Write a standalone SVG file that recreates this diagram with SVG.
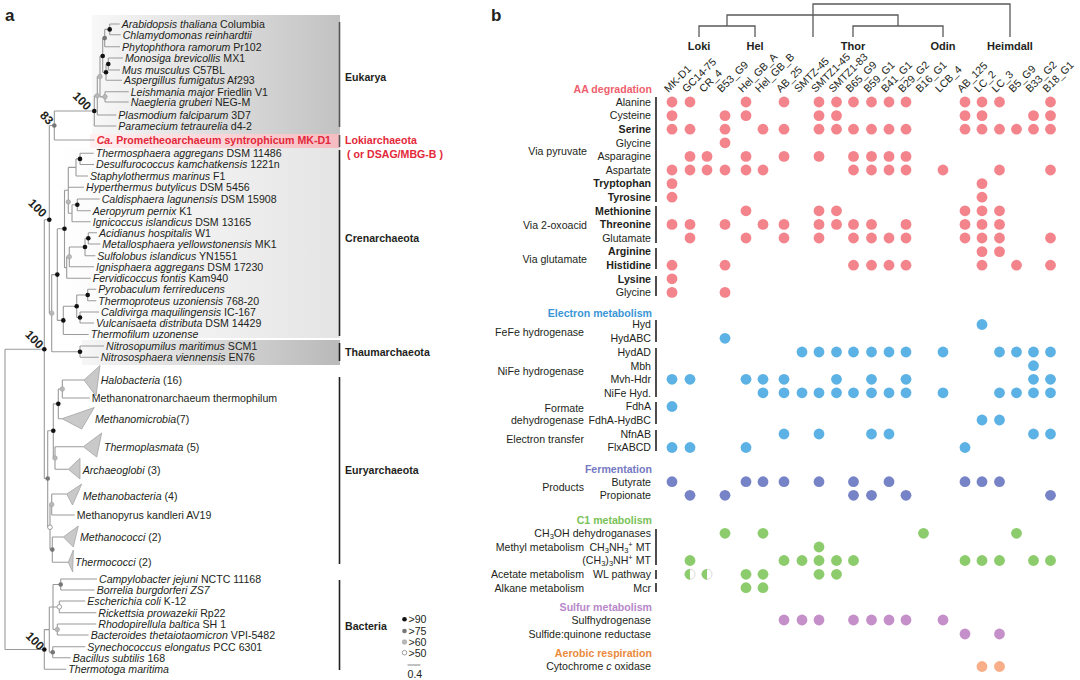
<svg xmlns="http://www.w3.org/2000/svg" width="1080" height="680" viewBox="0 0 1080 680">
<defs>
<linearGradient id="gEuk" x1="0" x2="1" y1="0" y2="0"><stop offset="0" stop-color="#f8f8f8"/><stop offset="1" stop-color="#c2c2c2"/></linearGradient>
<linearGradient id="gLoki" x1="0" x2="1" y1="0" y2="0"><stop offset="0" stop-color="#fff0f1"/><stop offset="1" stop-color="#f5bcc1"/></linearGradient>
<linearGradient id="gCren" x1="0" x2="1" y1="0" y2="0"><stop offset="0" stop-color="#ffffff"/><stop offset="1" stop-color="#e4e4e4"/></linearGradient>
<linearGradient id="gThaum" x1="0" x2="1" y1="0" y2="0"><stop offset="0" stop-color="#f6f6f6"/><stop offset="1" stop-color="#b9b9b9"/></linearGradient>
<style>
text{font-family:"Liberation Sans",Arial,sans-serif;font-size:10.6px;fill:#231f20}
.i{font-style:italic}
.b{font-weight:bold}
.t{font-weight:bold;font-size:11px}
.bs{font-weight:bold;font-size:12px}
.lbl{font-size:17px;font-weight:bold}
.tree{fill:none;stroke:#9a9a9a;stroke-width:1.1}
.br{stroke:#231f20;stroke-width:1.6}
.hdr{fill:none;stroke:#5a5a5a;stroke-width:1.3}
.n90{fill:#111}
.n75{fill:#767676}
.n60{fill:#b8b8b8;stroke:#999;stroke-width:0.5}
.n50{fill:#fff;stroke:#888;stroke-width:0.8}
.tri{fill:#c9c9c9;stroke:#a5a5a5;stroke-width:0.8}
.aa{fill:#f3848c}.el{fill:#5cb2e4}.fe{fill:#7683c6}.c1{fill:#8dcc6c}.su{fill:#c590c9}.ae{fill:#f8ae88}
.end{text-anchor:end}
</style>
</defs>
<rect width="1080" height="680" fill="#fff"/>

<!-- ================= PANEL A ================= -->
<g id="panel-a">
<text class="lbl" x="5" y="21">a</text>
<rect id="bg-eukarya" x="92" y="15" width="248" height="119" fill="url(#gEuk)"/>
<rect id="bg-loki" x="90" y="134" width="250" height="14" fill="url(#gLoki)"/>
<rect id="bg-cren" x="56" y="148" width="284" height="190" fill="url(#gCren)"/>
<rect id="bg-thaum" x="82" y="340" width="258" height="25" fill="url(#gThaum)"/>

<g id="connectors">
<path class="tree" d="M5,349.2V649.5M5,349.2H44.3M5,649.5H44.3
M44.3,219.8V478.5M44.3,219.8H49.3M44.3,478.5H47.7
M49.3,125.5V313.2M49.3,125.5H54.3M49.3,313.2H51.7
M54.3,111V140M54.3,111H94.3M54.3,140H94.5
M94.3,95.75V126M94.3,95.75H97.3M94.3,126H116.3
M97.3,76.5V115M97.3,76.5H100M97.3,115H116.3
M100,56V96.85M100,56H102.7M100,96.85H105
M105,91.7V102M105,91.7H128.7M105,102H128.7
M102.7,38.1V72.2M102.7,38.1H104.7M102.7,72.2H106
M104.7,29.4V46.7M104.7,29.4H109.7M104.7,46.7H120
M109.7,24V34.7M109.7,24H119.7M109.7,34.7H120.7
M106,64V80.3M106,64H108.3M106,80.3H122
M108.3,58V70M108.3,58H123M108.3,70H120
M51.7,274.6V351.7M51.7,274.6H57.3M51.7,351.7H80
M80,346V357.3M80,346H104M80,357.3H98.7
M57.3,228.8V320.4M57.3,228.8H64.5M57.3,320.4H63.3
M64.5,190.3V267.65M64.5,190.3H68.3M64.5,267.65H66.7
M68.3,167.4V213.2M68.3,187.3H84M68.3,167.4H76M68.3,213.2H72
M76,158.9V176M76,176H88M76,158.9H80
M80,153.3V164.5M80,153.3H93.7M80,164.5H94
M72,204.8V221.7M72,221.7H90.7M72,204.8H77.3
M77.3,199V210.7M77.3,199H99.7M77.3,210.7H90.7
M66.7,256.85V278.3M66.7,278.3H90.7M66.7,256.85H69.3
M69.3,247V266.7M69.3,266.7H94M69.3,247H85
M85,238.3V255.7M85,255.7H95.3M85,238.3H88.3
M88.3,232.7V244M88.3,232.7H97M88.3,244H100.3
M63.3,306.3V334.5M63.3,334.5H88.7M63.3,306.3H76.7
M76.7,295V317.5M76.7,295H87.7M76.7,317.5H80
M87.7,289.3V300.7M87.7,289.3H96.3M87.7,300.7H96.3
M80,312V323M80,312H99M80,323H94
M47.7,430.75V527.25M47.7,430.75H53.3M47.7,527.25H50
M53.3,403.85V458M53.3,403.85H58.3M53.3,458H55
M58.3,389V418.7M58.3,389H62.3M58.3,418.7H62
M62.3,380V398M62.3,380H84M62.3,398H89.7
M55,446.7V469.3M55,446.7H83.3M55,469.3H68.3
M50,504.5V549.6M50,504.5H51.7M50,549.6H52.3
M51.7,494V515M51.7,494H66.7M51.7,515H74.7
M52.3,537V562.3M52.3,537H63.3M52.3,562.3H68.3
M44.3,629.6V669.3M44.3,669.3H66.3M44.3,629.6H49.3
M49.3,607V652.2M49.3,607H53M49.3,652.2H52.7
M53,584.5V629.5M53,584.5H60.7M53,607H59.3M53,629.5H57.3
M60.7,579V590M60.7,579H97M60.7,590H94.7
M59.3,601V612.7M59.3,601H85.3M59.3,612.7H96.3
M57.3,624V635M57.3,624H96.3M57.3,635H88.7
M52.7,646.7V657.7M52.7,646.7H85.3M52.7,657.7H70.7"/>
<polygon class="tri" points="84,380 100,365.5 96,396"/>
<polygon class="tri" points="62,418.7 94.3,407.5 81.7,429"/>
<polygon class="tri" points="83.3,446.7 101.7,433 96.7,457"/>
<polygon class="tri" points="68.3,469.3 80,458.3 80,479"/>
<polygon class="tri" points="66.7,494 81.7,484 72.5,505"/>
<polygon class="tri" points="63.3,537 78.3,526 73.3,547"/>
<polygon class="tri" points="68.3,562.3 73.3,550 72.7,572"/>
</g>

<g id="support-nodes">
<circle class="n90" cx="109.7" cy="29.4" r="2.3"/>
<circle class="n75" cx="104.7" cy="38.1" r="2.3"/>
<circle class="n90" cx="102.7" cy="56" r="2.3"/>
<circle class="n90" cx="108.3" cy="64" r="2.3"/>
<circle class="n90" cx="106" cy="72.2" r="2.3"/>
<circle class="n60" cx="100" cy="76.5" r="2.3"/>
<circle class="n60" cx="97.3" cy="95.75" r="2.3"/>
<circle class="n60" cx="105" cy="96.85" r="2.3"/>
<circle class="n90" cx="94.3" cy="111" r="2.3"/>
<circle class="n75" cx="54.3" cy="125.5" r="2.3"/>
<circle class="n90" cx="80" cy="158.9" r="2.3"/>
<circle class="n90" cx="77.3" cy="204.8" r="2.3"/>
<circle class="n60" cx="68.3" cy="202" r="2.3"/>
<circle class="n90" cx="64.5" cy="228.8" r="2.3"/>
<circle class="n90" cx="88.3" cy="238.3" r="2.3"/>
<circle class="n90" cx="85" cy="247" r="2.3"/>
<circle class="n60" cx="69.3" cy="256.85" r="2.3"/>
<circle class="n90" cx="57.3" cy="274.6" r="2.3"/>
<circle class="n90" cx="87.7" cy="295" r="2.3"/>
<circle class="n90" cx="76.7" cy="306.3" r="2.3"/>
<circle class="n90" cx="80" cy="317.5" r="2.3"/>
<circle class="n90" cx="63.3" cy="320.4" r="2.3"/>
<circle class="n60" cx="51.7" cy="313.2" r="2.3"/>
<circle class="n90" cx="80" cy="351.7" r="2.3"/>
<circle class="n90" cx="49.3" cy="219.8" r="2.3"/>
<circle class="n90" cx="44.3" cy="349.2" r="2.3"/>
<circle class="n60" cx="62.3" cy="389" r="2.3"/>
<circle class="n90" cx="58.3" cy="403.85" r="2.3"/>
<circle class="n90" cx="53.3" cy="430.75" r="2.3"/>
<circle class="n60" cx="55" cy="458" r="2.3"/>
<circle class="n75" cx="47.7" cy="478.5" r="2.3"/>
<circle class="n60" cx="51.7" cy="504.5" r="2.3"/>
<circle class="n50" cx="50" cy="527.25" r="2.3"/>
<circle class="n75" cx="52.3" cy="549.6" r="2.3"/>
<circle class="n75" cx="60.7" cy="584.5" r="2.3"/>
<circle class="n50" cx="59.3" cy="606.85" r="2.3"/>
<circle class="n60" cx="57.3" cy="629.5" r="2.3"/>
<circle class="n75" cx="52.7" cy="652.2" r="2.3"/>
<circle class="n90" cx="44.3" cy="649.5" r="2.3"/>
<text class="bs" text-anchor="middle" transform="translate(82,101) rotate(45)" y="4">100</text>
<text class="bs" text-anchor="middle" transform="translate(46.7,118) rotate(45)" y="4">83</text>
<text class="bs" text-anchor="middle" transform="translate(37.5,208) rotate(45)" y="4">100</text>
<text class="bs" text-anchor="middle" transform="translate(34.3,339.5) rotate(45)" y="4">100</text>
<text class="bs" text-anchor="middle" transform="translate(35,641) rotate(45)" y="4">100</text>
</g>

<g id="taxa">
<g id="t01"><text x="121.7" y="27.8"><tspan class="i">Arabidopsis thaliana</tspan> Columbia</text></g>
<g id="t02"><text x="122.7" y="38.5" class="i">Chlamydomonas reinhardtii</text></g>
<g id="t03"><text x="122" y="50.5"><tspan class="i">Phytophthora ramorum</tspan> Pr102</text></g>
<g id="t04"><text x="125" y="61.8"><tspan class="i">Monosiga brevicollis</tspan> MX1</text></g>
<g id="t05"><text x="122" y="73.8"><tspan class="i">Mus musculus</tspan> C57BL</text></g>
<g id="t06"><text x="124" y="84.1"><tspan class="i">Aspergillus fumigatus</tspan> Af293</text></g>
<g id="t07"><text x="130.7" y="95.5"><tspan class="i">Leishmania major</tspan> Friedlin V1</text></g>
<g id="t08"><text x="130.7" y="105.8"><tspan class="i">Naegleria gruberi</tspan> NEG-M</text></g>
<g id="t09"><text x="118.3" y="118.8"><tspan class="i">Plasmodium falciparum</tspan> 3D7</text></g>
<g id="t10"><text x="118.3" y="129.8"><tspan class="i">Paramecium tetraurelia</tspan> d4-2</text></g>
<g id="t11"><text x="96.7" y="143.8" class="b" style="fill:#e3283a"><tspan class="i">Ca.</tspan> Prometheoarchaeum syntrophicum MK-D1</text></g>
<g id="t12"><text x="95.7" y="157.1"><tspan class="i">Thermosphaera aggregans</tspan> DSM 11486</text></g>
<g id="t13"><text x="96" y="168.3"><tspan class="i">Desulfurococcus kamchatkensis</tspan> 1221n</text></g>
<g id="t14"><text x="90" y="179.8"><tspan class="i">Staphylothermus marinus</tspan> F1</text></g>
<g id="t15"><text x="86" y="191.1"><tspan class="i">Hyperthermus butylicus</tspan> DSM 5456</text></g>
<g id="t16"><text x="101.7" y="202.8"><tspan class="i">Caldisphaera lagunensis</tspan> DSM 15908</text></g>
<g id="t17"><text x="92.7" y="214.5"><tspan class="i">Aeropyrum pernix</tspan> K1</text></g>
<g id="t18"><text x="92.7" y="225.5"><tspan class="i">Ignicoccus islandicus</tspan> DSM 13165</text></g>
<g id="t19"><text x="99" y="236.5"><tspan class="i">Acidianus hospitalis</tspan> W1</text></g>
<g id="t20"><text x="102.3" y="247.8"><tspan class="i">Metallosphaera yellowstonensis</tspan> MK1</text></g>
<g id="t21"><text x="97.3" y="259.5"><tspan class="i">Sulfolobus islandicus</tspan> YN1551</text></g>
<g id="t22"><text x="96" y="270.5"><tspan class="i">Ignisphaera aggregans</tspan> DSM 17230</text></g>
<g id="t23"><text x="92.7" y="282.1"><tspan class="i">Fervidicoccus fontis</tspan> Kam940</text></g>
<g id="t24"><text x="98.3" y="293.1" class="i">Pyrobaculum ferrireducens</text></g>
<g id="t25"><text x="98.3" y="304.5"><tspan class="i">Thermoproteus uzoniensis</tspan> 768-20</text></g>
<g id="t26"><text x="101" y="315.8"><tspan class="i">Caldivirga maquilingensis</tspan> IC-167</text></g>
<g id="t27"><text x="96" y="326.8"><tspan class="i">Vulcanisaeta distributa</tspan> DSM 14429</text></g>
<g id="t28"><text x="90.7" y="338.3" class="i">Thermofilum uzonense</text></g>
<g id="t29"><text x="106" y="349.8"><tspan class="i">Nitrosopumilus maritimus</tspan> SCM1</text></g>
<g id="t30"><text x="100.7" y="361.1"><tspan class="i">Nitrososphaera viennensis</tspan> EN76</text></g>
<g id="t31"><text x="100.7" y="383.8"><tspan class="i">Halobacteria</tspan> (16)</text></g>
<g id="t32"><text x="91.7" y="401.8">Methanonatronarchaeum thermophilum</text></g>
<g id="t33"><text x="95" y="422.5"><tspan class="i">Methanomicrobia</tspan>(7)</text></g>
<g id="t34"><text x="104" y="450.5"><tspan class="i">Thermoplasmata</tspan> (5)</text></g>
<g id="t35"><text x="82.7" y="473.8"><tspan class="i">Archaeoglobi</tspan> (3)</text></g>
<g id="t36"><text x="82.7" y="499.5"><tspan class="i">Methanobacteria</tspan> (4)</text></g>
<g id="t37"><text x="76.7" y="518.8">Methanopyrus kandleri AV19</text></g>
<g id="t38"><text x="80" y="541.1"><tspan class="i">Methanococci</tspan> (2)</text></g>
<g id="t39"><text x="75" y="566.1"><tspan class="i">Thermococci</tspan> (2)</text></g>
<g id="t40"><text x="99" y="582.8"><tspan class="i">Campylobacter jejuni</tspan> NCTC 11168</text></g>
<g id="t41"><text x="96.7" y="593.8" class="i">Borrelia burgdorferi ZS7</text></g>
<g id="t42"><text x="87.3" y="604.8"><tspan class="i">Escherichia coli</tspan> K-12</text></g>
<g id="t43"><text x="98.3" y="616.5"><tspan class="i">Rickettsia prowazekii</tspan> Rp22</text></g>
<g id="t44"><text x="98.3" y="627.8"><tspan class="i">Rhodopirellula baltica</tspan> SH 1</text></g>
<g id="t45"><text x="90.7" y="638.8"><tspan class="i">Bacteroides thetaiotaomicron</tspan> VPI-5482</text></g>
<g id="t46"><text x="87.3" y="650.5"><tspan class="i">Synechococcus elongatus</tspan> PCC 6301</text></g>
<g id="t47"><text x="72.7" y="661.5"><tspan class="i">Bacillus subtilis</tspan> 168</text></g>
<g id="t48"><text x="68.3" y="673.1" class="i">Thermotoga maritima</text></g>
</g>

<g id="clades">
<line class="br" x1="339.5" y1="22" x2="339.5" y2="127" style="stroke:#555"/>
<text class="b" x="345" y="80.5">Eukarya</text>
<line class="br" x1="339.5" y1="135" x2="339.5" y2="147" style="stroke:#555"/>
<text class="b" x="345" y="143.8" style="fill:#e3283a">Lokiarchaeota</text>
<text class="b" x="347" y="157.8" style="fill:#e3283a">( or DSAG/MBG-B )</text>
<line class="br" x1="339.5" y1="150" x2="339.5" y2="336"/>
<text class="b" x="345" y="241.8">Crenarchaeota</text>
<line class="br" x1="339.5" y1="343" x2="339.5" y2="361"/>
<text class="b" x="345" y="355.8">Thaumarchaeota</text>
<line class="br" x1="339.5" y1="377" x2="339.5" y2="564"/>
<text class="b" x="345" y="473.8">Euryarchaeota</text>
<line class="br" x1="339.5" y1="580" x2="339.5" y2="670"/>
<text class="b" x="345" y="629.8">Bacteria</text>
</g>

<g id="legend">
<circle class="n90" cx="404.5" cy="619.3" r="2.3"/><text x="408.5" y="623.1">&gt;90</text>
<circle class="n75" cx="404.5" cy="631" r="2.3"/><text x="408.5" y="634.8">&gt;75</text>
<circle class="n60" cx="404.5" cy="642" r="2.3"/><text x="408.5" y="645.8">&gt;60</text>
<circle class="n50" cx="404.5" cy="652.7" r="2.3"/><text x="408.5" y="656.5">&gt;50</text>
<line x1="407.5" y1="665" x2="420.5" y2="665" stroke="#999" stroke-width="1.2"/>
<text x="407.5" y="678">0.4</text>
</g>
</g>

<!-- ================= PANEL B ================= -->
<g id="panel-b">
<text class="lbl" x="491" y="21">b</text>

<g id="header-tree">
<path class="hdr" d="M813,37V4H1010V37M727,26V15H898V26M699,37V26H755V37M853,37V26H943V37M813,4V15"/>
<text class="t" text-anchor="middle" x="699" y="50">Loki</text>
<text class="t" text-anchor="middle" x="755" y="50">Hel</text>
<text class="t" text-anchor="middle" x="853" y="50">Thor</text>
<text class="t" text-anchor="middle" x="943" y="50">Odin</text>
<text class="t" text-anchor="middle" x="1010" y="50">Heimdall</text>
</g>

<g id="column-labels">
<text transform="translate(668.5,93) rotate(-45)">MK-D1</text>
<text transform="translate(686.5,93) rotate(-45)">GC14-75</text>
<text transform="translate(703.5,93) rotate(-45)">CR_4</text>
<text transform="translate(721.5,93) rotate(-45)">B53_G9</text>
<text transform="translate(742.5,93) rotate(-45)">Hel_GB_A</text>
<text transform="translate(759.5,93) rotate(-45)">Hel_GB_B</text>
<text transform="translate(780.5,93) rotate(-45)">AB_25</text>
<text transform="translate(798.5,93) rotate(-45)">SMTZ-45</text>
<text transform="translate(815.5,93) rotate(-45)">SMTZ1-45</text>
<text transform="translate(833,93) rotate(-45)">SMTZ1-83</text>
<text transform="translate(850,93) rotate(-45)">B65_G9</text>
<text transform="translate(868,93) rotate(-45)">B59_G1</text>
<text transform="translate(885.5,93) rotate(-45)">B41_G1</text>
<text transform="translate(902.5,93) rotate(-45)">B29_G2</text>
<text transform="translate(920,93) rotate(-45)">B16_G1</text>
<text transform="translate(939.5,93) rotate(-45)">LCB_4</text>
<text transform="translate(961.5,93) rotate(-45)">AB_125</text>
<text transform="translate(978.5,93) rotate(-45)">LC_2</text>
<text transform="translate(996,93) rotate(-45)">LC_3</text>
<text transform="translate(1013,93) rotate(-45)">B5_G9</text>
<text transform="translate(1030,93) rotate(-45)">B33_G2</text>
<text transform="translate(1047,93) rotate(-45)">B18_G1</text>
</g>

<g id="row-labels">
<text class="b end" x="652" y="92.8" style="fill:#ee5f6d">AA degradation</text>
<text class="end" x="651" y="105.8">Alanine</text>
<text class="end" x="651" y="119.4">Cysteine</text>
<text class="end b" x="651" y="133">Serine</text>
<text class="end" x="651" y="146.6">Glycine</text>
<text class="end" x="651" y="160.2">Asparagine</text>
<text class="end" x="651" y="173.8">Aspartate</text>
<text class="end b" x="651" y="187.4">Tryptophan</text>
<text class="end b" x="651" y="201">Tyrosine</text>
<text class="end b" x="651" y="214.6">Methionine</text>
<text class="end b" x="651" y="228.2">Threonine</text>
<text class="end" x="651" y="241.8">Glutamate</text>
<text class="end b" x="651" y="255.4">Arginine</text>
<text class="end b" x="651" y="269">Histidine</text>
<text class="end b" x="651" y="282.6">Lysine</text>
<text class="end" x="651" y="296.2">Glycine</text>
<text class="end" x="587" y="154.5">Via pyruvate</text>
<text class="end" x="587" y="228.8">Via 2-oxoacid</text>
<text class="end" x="587" y="263.1">Via glutamate</text>

<text class="b end" x="652" y="316.8" style="fill:#3a96d6">Electron metabolism</text>
<text class="end" x="651" y="328.3">Hyd</text>
<text class="end" x="651" y="342.1">HydABC</text>
<text class="end" x="651" y="355.8">HydAD</text>
<text class="end" x="651" y="369.5">Mbh</text>
<text class="end" x="651" y="383.1">Mvh-Hdr</text>
<text class="end" x="651" y="396.6">NiFe Hyd.</text>
<text class="end" x="651" y="410.3">FdhA</text>
<text class="end" x="651" y="423.8">FdhA-HydBC</text>
<text class="end" x="651" y="437.8">NfnAB</text>
<text class="end" x="651" y="451.3">FlxABCD</text>
<text class="end" x="584" y="336.1">FeFe hydrogenase</text>
<text class="end" x="584" y="374.5">NiFe hydrogenase</text>
<text class="end" x="584" y="412.1">Formate</text>
<text class="end" x="584" y="423.6">dehydrogenase</text>
<text class="end" x="584" y="443.1">Electron transfer</text>

<text class="b end" x="652" y="472.8" style="fill:#7579c2">Fermentation</text>
<text class="end" x="651" y="485.5">Butyrate</text>
<text class="end" x="651" y="499.1">Propionate</text>
<text class="end" x="584" y="490.5">Products</text>

<text class="b end" x="652" y="523.8" style="fill:#79c257">C1 metabolism</text>
<text class="end" x="651" y="537.1">CH<tspan font-size="7.5" dy="2">3</tspan><tspan dy="-2">OH dehydroganases</tspan></text>
<text class="end" x="651" y="550.8">CH<tspan font-size="7.5" dy="2">3</tspan><tspan dy="-2">NH</tspan><tspan font-size="7.5" dy="2">3</tspan><tspan font-size="7.5" dy="-6">+</tspan><tspan dy="4"> MT</tspan></text>
<text class="end" x="651" y="564.3">(CH<tspan font-size="7.5" dy="2">3</tspan><tspan dy="-2">)</tspan><tspan font-size="7.5" dy="2">3</tspan><tspan dy="-2">NH</tspan><tspan font-size="7.5" dy="-4">+</tspan><tspan dy="4"> MT</tspan></text>
<text class="end" x="651" y="578.1">WL pathway</text>
<text class="end" x="651" y="591.5">Mcr</text>
<text class="end" x="584" y="551.1">Methyl metabolism</text>
<text class="end" x="584" y="578.1">Acetate metabolism</text>
<text class="end" x="584" y="591.5">Alkane metabolism</text>

<text class="b end" x="652" y="610.5" style="fill:#b788c9">Sulfur metabolism</text>
<text class="end" x="651" y="623.8">Sulfhydrogenase</text>
<text class="end" x="651" y="637.8">Sulfide:quinone reductase</text>

<text class="b end" x="652" y="657.1" style="fill:#ea8a3a">Aerobic respiration</text>
<text class="end" x="651" y="670.3">Cytochrome <tspan class="i">c</tspan> oxidase</text>
</g>

<g id="brackets">
<line class="br" x1="656" y1="97" x2="656" y2="202"/>
<line class="br" x1="656" y1="206" x2="656" y2="243"/>
<line class="br" x1="656" y1="248" x2="656" y2="269"/>
<line class="br" x1="656" y1="276" x2="656" y2="296"/>
<line class="br" x1="656" y1="320" x2="656" y2="342"/>
<line class="br" x1="656" y1="348" x2="656" y2="397"/>
<line class="br" x1="656" y1="402" x2="656" y2="424"/>
<line class="br" x1="656" y1="430" x2="656" y2="451"/>
<line class="br" x1="656" y1="529" x2="656" y2="565"/>
<line class="br" x1="656" y1="570" x2="656" y2="579"/>
<line class="br" x1="656" y1="583" x2="656" y2="592"/>
</g>

<g id="aa-dots" class="aa">
<circle cx="672" cy="102" r="5.4"/><circle cx="690" cy="102" r="5.4"/><circle cx="746" cy="102" r="5.4"/><circle cx="784" cy="102" r="5.4"/><circle cx="819" cy="102" r="5.4"/><circle cx="836.5" cy="102" r="5.4"/><circle cx="853.5" cy="102" r="5.4"/><circle cx="871.5" cy="102" r="5.4"/><circle cx="889" cy="102" r="5.4"/><circle cx="906" cy="102" r="5.4"/><circle cx="965" cy="102" r="5.4"/><circle cx="982" cy="102" r="5.4"/><circle cx="999.5" cy="102" r="5.4"/><circle cx="1050.5" cy="102" r="5.4"/>
<circle cx="672" cy="115.6" r="5.4"/><circle cx="725" cy="115.6" r="5.4"/><circle cx="746" cy="115.6" r="5.4"/><circle cx="819" cy="115.6" r="5.4"/><circle cx="836.5" cy="115.6" r="5.4"/><circle cx="965" cy="115.6" r="5.4"/><circle cx="982" cy="115.6" r="5.4"/><circle cx="1033.5" cy="115.6" r="5.4"/><circle cx="1050.5" cy="115.6" r="5.4"/>
<circle cx="672" cy="129.2" r="5.4"/><circle cx="690" cy="129.2" r="5.4"/><circle cx="725" cy="129.2" r="5.4"/><circle cx="763" cy="129.2" r="5.4"/><circle cx="784" cy="129.2" r="5.4"/><circle cx="819" cy="129.2" r="5.4"/><circle cx="836.5" cy="129.2" r="5.4"/><circle cx="853.5" cy="129.2" r="5.4"/><circle cx="871.5" cy="129.2" r="5.4"/><circle cx="889" cy="129.2" r="5.4"/><circle cx="906" cy="129.2" r="5.4"/><circle cx="965" cy="129.2" r="5.4"/><circle cx="982" cy="129.2" r="5.4"/><circle cx="999.5" cy="129.2" r="5.4"/><circle cx="1016.5" cy="129.2" r="5.4"/><circle cx="1033.5" cy="129.2" r="5.4"/><circle cx="1050.5" cy="129.2" r="5.4"/>
<circle cx="725" cy="142.8" r="5.4"/>
<circle cx="690" cy="156.4" r="5.4"/><circle cx="707" cy="156.4" r="5.4"/><circle cx="746" cy="156.4" r="5.4"/><circle cx="784" cy="156.4" r="5.4"/><circle cx="819" cy="156.4" r="5.4"/><circle cx="853.5" cy="156.4" r="5.4"/><circle cx="871.5" cy="156.4" r="5.4"/><circle cx="889" cy="156.4" r="5.4"/><circle cx="906" cy="156.4" r="5.4"/>
<circle cx="672" cy="170" r="5.4"/><circle cx="690" cy="170" r="5.4"/><circle cx="707" cy="170" r="5.4"/><circle cx="725" cy="170" r="5.4"/><circle cx="746" cy="170" r="5.4"/><circle cx="763" cy="170" r="5.4"/><circle cx="853.5" cy="170" r="5.4"/><circle cx="871.5" cy="170" r="5.4"/><circle cx="889" cy="170" r="5.4"/><circle cx="906" cy="170" r="5.4"/><circle cx="943" cy="170" r="5.4"/><circle cx="999.5" cy="170" r="5.4"/><circle cx="1050.5" cy="170" r="5.4"/>
<circle cx="672" cy="183.6" r="5.4"/><circle cx="982" cy="183.6" r="5.4"/>
<circle cx="672" cy="197.2" r="5.4"/><circle cx="982" cy="197.2" r="5.4"/>
<circle cx="746" cy="210.8" r="5.4"/><circle cx="819" cy="210.8" r="5.4"/><circle cx="836.5" cy="210.8" r="5.4"/><circle cx="965" cy="210.8" r="5.4"/><circle cx="982" cy="210.8" r="5.4"/><circle cx="999.5" cy="210.8" r="5.4"/>
<circle cx="672" cy="224.4" r="5.4"/><circle cx="690" cy="224.4" r="5.4"/><circle cx="725" cy="224.4" r="5.4"/><circle cx="763" cy="224.4" r="5.4"/><circle cx="784" cy="224.4" r="5.4"/><circle cx="819" cy="224.4" r="5.4"/><circle cx="836.5" cy="224.4" r="5.4"/><circle cx="853.5" cy="224.4" r="5.4"/><circle cx="871.5" cy="224.4" r="5.4"/><circle cx="906" cy="224.4" r="5.4"/><circle cx="965" cy="224.4" r="5.4"/><circle cx="982" cy="224.4" r="5.4"/><circle cx="999.5" cy="224.4" r="5.4"/>
<circle cx="690" cy="238" r="5.4"/><circle cx="746" cy="238" r="5.4"/><circle cx="784" cy="238" r="5.4"/><circle cx="819" cy="238" r="5.4"/><circle cx="853.5" cy="238" r="5.4"/><circle cx="871.5" cy="238" r="5.4"/><circle cx="889" cy="238" r="5.4"/><circle cx="906" cy="238" r="5.4"/><circle cx="965" cy="238" r="5.4"/><circle cx="982" cy="238" r="5.4"/><circle cx="999.5" cy="238" r="5.4"/><circle cx="1050.5" cy="238" r="5.4"/>
<circle cx="982" cy="251.6" r="5.4"/><circle cx="999.5" cy="251.6" r="5.4"/>
<circle cx="672" cy="265.2" r="5.4"/><circle cx="725" cy="265.2" r="5.4"/><circle cx="853.5" cy="265.2" r="5.4"/><circle cx="871.5" cy="265.2" r="5.4"/><circle cx="889" cy="265.2" r="5.4"/><circle cx="906" cy="265.2" r="5.4"/><circle cx="982" cy="265.2" r="5.4"/><circle cx="1016.5" cy="265.2" r="5.4"/><circle cx="1050.5" cy="265.2" r="5.4"/>
<circle cx="672" cy="278.8" r="5.4"/>
<circle cx="672" cy="292.4" r="5.4"/><circle cx="725" cy="292.4" r="5.4"/>
</g>

<g id="electron-dots" class="el">
<circle cx="982" cy="324.5" r="5.4"/>
<circle cx="725" cy="338.3" r="5.4"/>
<circle cx="802" cy="352" r="5.4"/><circle cx="819" cy="352" r="5.4"/><circle cx="836.5" cy="352" r="5.4"/><circle cx="853.5" cy="352" r="5.4"/><circle cx="871.5" cy="352" r="5.4"/><circle cx="889" cy="352" r="5.4"/><circle cx="906" cy="352" r="5.4"/><circle cx="943" cy="352" r="5.4"/><circle cx="999.5" cy="352" r="5.4"/><circle cx="1016.5" cy="352" r="5.4"/><circle cx="1033.5" cy="352" r="5.4"/><circle cx="1050.5" cy="352" r="5.4"/>
<circle cx="1033.5" cy="365.7" r="5.4"/>
<circle cx="672" cy="379.3" r="5.4"/><circle cx="690" cy="379.3" r="5.4"/><circle cx="746" cy="379.3" r="5.4"/><circle cx="763" cy="379.3" r="5.4"/><circle cx="784" cy="379.3" r="5.4"/><circle cx="836.5" cy="379.3" r="5.4"/><circle cx="871.5" cy="379.3" r="5.4"/><circle cx="906" cy="379.3" r="5.4"/><circle cx="1033.5" cy="379.3" r="5.4"/><circle cx="1050.5" cy="379.3" r="5.4"/>
<circle cx="763" cy="392.8" r="5.4"/><circle cx="784" cy="392.8" r="5.4"/><circle cx="802" cy="392.8" r="5.4"/><circle cx="819" cy="392.8" r="5.4"/><circle cx="836.5" cy="392.8" r="5.4"/><circle cx="853.5" cy="392.8" r="5.4"/><circle cx="871.5" cy="392.8" r="5.4"/><circle cx="889" cy="392.8" r="5.4"/><circle cx="906" cy="392.8" r="5.4"/><circle cx="943" cy="392.8" r="5.4"/><circle cx="999.5" cy="392.8" r="5.4"/><circle cx="1016.5" cy="392.8" r="5.4"/><circle cx="1033.5" cy="392.8" r="5.4"/><circle cx="1050.5" cy="392.8" r="5.4"/>
<circle cx="672" cy="406.5" r="5.4"/>
<circle cx="982" cy="420" r="5.4"/><circle cx="999.5" cy="420" r="5.4"/>
<circle cx="784" cy="434" r="5.4"/><circle cx="819" cy="434" r="5.4"/><circle cx="871.5" cy="434" r="5.4"/><circle cx="889" cy="434" r="5.4"/><circle cx="1033.5" cy="434" r="5.4"/><circle cx="1050.5" cy="434" r="5.4"/>
<circle cx="672" cy="447.5" r="5.4"/><circle cx="690" cy="447.5" r="5.4"/><circle cx="746" cy="447.5" r="5.4"/><circle cx="965" cy="447.5" r="5.4"/>
</g>

<g id="fermentation-dots" class="fe">
<circle cx="672" cy="481.7" r="5.4"/><circle cx="746" cy="481.7" r="5.4"/><circle cx="763" cy="481.7" r="5.4"/><circle cx="784" cy="481.7" r="5.4"/><circle cx="819" cy="481.7" r="5.4"/><circle cx="853.5" cy="481.7" r="5.4"/><circle cx="889" cy="481.7" r="5.4"/><circle cx="965" cy="481.7" r="5.4"/><circle cx="982" cy="481.7" r="5.4"/><circle cx="999.5" cy="481.7" r="5.4"/>
<circle cx="690" cy="495.3" r="5.4"/><circle cx="725" cy="495.3" r="5.4"/><circle cx="853.5" cy="495.3" r="5.4"/><circle cx="871.5" cy="495.3" r="5.4"/><circle cx="906" cy="495.3" r="5.4"/><circle cx="1050.5" cy="495.3" r="5.4"/>
</g>

<g id="c1-dots" class="c1">
<circle cx="725" cy="533.3" r="5.4"/><circle cx="763" cy="533.3" r="5.4"/><circle cx="923.5" cy="533.3" r="5.4"/><circle cx="1016.5" cy="533.3" r="5.4"/>
<circle cx="819" cy="547" r="5.4"/>
<circle cx="690" cy="560.5" r="5.4"/><circle cx="784" cy="560.5" r="5.4"/><circle cx="802" cy="560.5" r="5.4"/><circle cx="819" cy="560.5" r="5.4"/><circle cx="836.5" cy="560.5" r="5.4"/><circle cx="853.5" cy="560.5" r="5.4"/><circle cx="965" cy="560.5" r="5.4"/><circle cx="982" cy="560.5" r="5.4"/><circle cx="999.5" cy="560.5" r="5.4"/><circle cx="1033.5" cy="560.5" r="5.4"/><circle cx="1050.5" cy="560.5" r="5.4"/>
<circle cx="690" cy="574.3" r="5" fill="#fff" stroke="#cfcfcf" stroke-width="0.8"/>
<path d="M690,568.9A5.4,5.4 0 0 0 690,579.7Z"/>
<circle cx="707" cy="574.3" r="5" fill="#fff" stroke="#cfcfcf" stroke-width="0.8"/>
<path d="M707,568.9A5.4,5.4 0 0 0 707,579.7Z"/>
<circle cx="746" cy="574.3" r="5.4"/><circle cx="763" cy="574.3" r="5.4"/><circle cx="819" cy="574.3" r="5.4"/><circle cx="836.5" cy="574.3" r="5.4"/>
<circle cx="746" cy="587.7" r="5.4"/><circle cx="763" cy="587.7" r="5.4"/>
</g>

<g id="sulfur-dots" class="su">
<circle cx="784" cy="620" r="5.4"/><circle cx="802" cy="620" r="5.4"/><circle cx="819" cy="620" r="5.4"/><circle cx="853.5" cy="620" r="5.4"/><circle cx="871.5" cy="620" r="5.4"/><circle cx="889" cy="620" r="5.4"/><circle cx="906" cy="620" r="5.4"/><circle cx="943" cy="620" r="5.4"/>
<circle cx="965" cy="634" r="5.4"/><circle cx="999.5" cy="634" r="5.4"/>
</g>

<g id="aerobic-dots" class="ae">
<circle cx="982" cy="666.5" r="5.4"/><circle cx="999.5" cy="666.5" r="5.4"/>
</g>
</g>
</svg>
